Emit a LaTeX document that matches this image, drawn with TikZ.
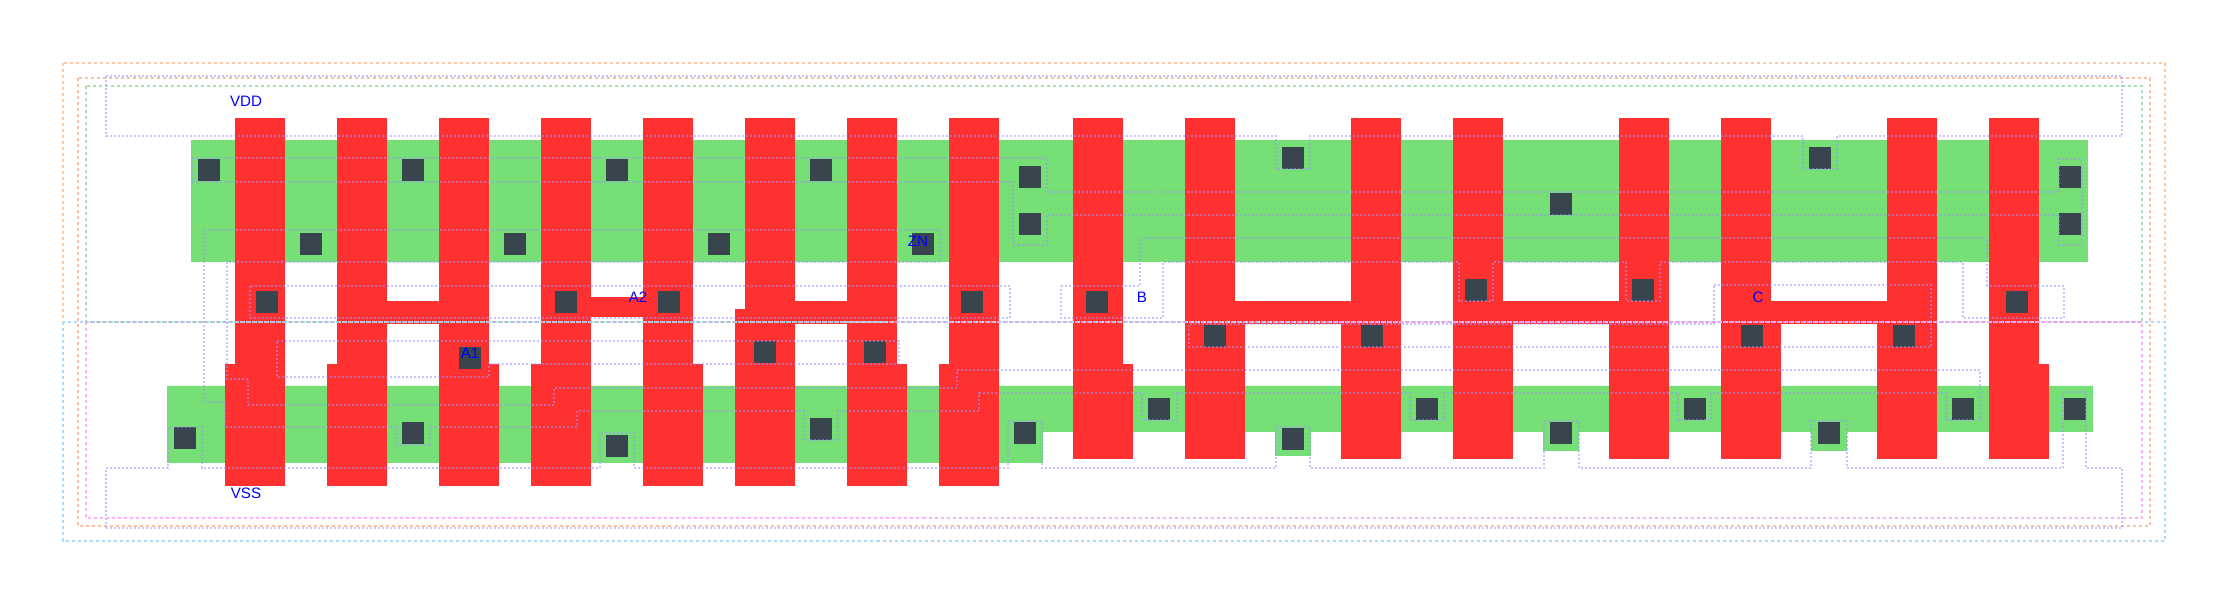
\documentclass[tikz,border=0pt]{standalone}
\usepackage{fontspec}
\setmainfont{Liberation Sans}
\definecolor{actgreen}{HTML}{76DF76}
\definecolor{polyred}{HTML}{FF3030}
\definecolor{cutgrey}{HTML}{38454F}
\definecolor{metalpurple}{HTML}{9C94FF}
\definecolor{guideorange}{HTML}{FFC9A3}
\definecolor{guidesalmon}{HTML}{FFBE9C}
\definecolor{guideblue}{HTML}{A9DBFF}
\definecolor{guidegreen}{HTML}{A5E3B5}
\definecolor{guidepink}{HTML}{FF8CFA}
\tikzset{
    active/.style={fill=actgreen},
    poly/.style={fill=polyred},
    cut/.style={fill=cutgrey},
    metal/.style={draw=metalpurple,line width=1.2*0.2845pt,draw opacity=.55,dash pattern=on 2*0.2845pt off 2*0.2845pt},
    guide/.style={line width=2*0.2845pt,dash pattern=on 3*0.2845pt off 3*0.2845pt},
    pin/.style={text=blue,font=\fontsize{4.3}{5}\selectfont,inner sep=0pt},
}
\begin{document}
\begin{tikzpicture}[x=0.01cm,y=-0.01cm]
    \useasboundingbox (0,0) rectangle (2228,604);
    % active
    \path[active] (191,140) rectangle (2088,262);
    \path[active] (167,386) -- (2093,386) -- (2093,432) -- (1847,432) -- (1847,451) -- (1811,451) -- (1811,432)
        -- (1579,432) -- (1579,451) -- (1543,451) -- (1543,432) -- (1311,432) -- (1311,456) -- (1275,456)
        -- (1275,432) -- (1043,432) -- (1043,463) -- (167,463) -- cycle;
    % poly fingers
    \foreach \x in {235,337,439,541,643,745,847,949,1073,1185,1351,1453,1619,1721,1887,1989}{
        \path[poly] (\x,118) rectangle ++(50,300);
    }
    \foreach \xa/\xb/\ya/\yb in {225/285/364/486,327/387/364/486,439/499/364/486,531/591/364/486,643/703/364/486,
        735/795/309/486,847/907/364/486,939/999/364/486,1073/1133/364/459,1989/2049/364/459,1185/1245/324/459,
        1341/1401/324/459,1453/1513/324/459,1609/1669/324/459,1721/1781/324/459,1877/1937/324/459}{
        \path[poly] (\xa,\ya) rectangle (\xb,\yb);
    }
    \foreach \xa/\xb/\ya/\yb in {387/439/301/324,591/643/297/317,795/847/301/324,1235/1351/301/324,
        1503/1619/301/324,1771/1887/301/324}{
        \path[poly] (\xa,\ya) rectangle (\xb,\yb);
    }
    % contacts
    \foreach \x/\y in {198/159,402/159,606/159,810/159,300/233,504/233,708/233,912/233,256/291,555/291,658/291,
        961/291,1086/291,2006/291,459/347,754/341,864/341,174/427,402/422,606/435,810/418,1014/422,1019/166,
        1019/213,2059/166,2059/213,1282/147,1809/147,1550/193,1465/279,1632/279,1204/325,1361/325,1741/325,
        1893/325,1148/398,1416/398,1684/398,1952/398,2064/398,1282/428,1550/422,1818/422}{
        \path[cut] (\x,\y) rectangle ++(22,22);
    }
    % outlines
    \draw[guide,draw=guideorange] (63,63) rectangle (2165,322);
    \draw[guide,draw=guideblue] (63,322) rectangle (2165,541);
    \draw[guide,draw=guidesalmon] (78,78) rectangle (2150,526);
    \draw[guide,draw=guidegreen] (86,86) rectangle (2142,322);
    \draw[guide,draw=guidepink,draw opacity=.7] (86,322) rectangle (2142,518);
    % metal
    \draw[metal] (106,76) -- (2122,76) -- (2122,136) -- (1837,136) -- (1837,169) -- (1803,169) -- (1803,136)
        -- (1310,136) -- (1310,169) -- (1276,169) -- (1276,136) -- (106,136) -- cycle;
    \draw[metal] (106,528) -- (106,468) -- (168,468) -- (168,427) -- (202,427) -- (202,468) -- (600,468) -- (600,433)
        -- (634,433) -- (634,468) -- (1008,468) -- (1008,421) -- (1042,421) -- (1042,468) -- (1276,468) -- (1276,427)
        -- (1310,427) -- (1310,468) -- (1544,468) -- (1544,421) -- (1579,421) -- (1579,468) -- (1811,468) -- (1811,421)
        -- (1847,421) -- (1847,468) -- (2063,468) -- (2063,392) -- (2086,392) -- (2086,468) -- (2122,468) -- (2122,528)
        -- cycle;
    \draw[metal] (192,158) -- (1047,158) -- (1047,192) -- (2059,192) -- (2059,159) -- (2082,159) -- (2082,245)
        -- (2059,245) -- (2059,215) -- (1047,215) -- (1047,245) -- (1013,245) -- (1013,182) -- (192,182) -- cycle;
    \draw[metal] (204,230) -- (940,230) -- (940,262) -- (227,262) -- (227,379) -- (248,379) -- (248,405) -- (554,405)
        -- (554,388) -- (957,388) -- (957,370) -- (1980,370) -- (1980,420) -- (1946,420) -- (1946,393) -- (1711,393)
        -- (1711,420) -- (1678,420) -- (1678,393) -- (1444,393) -- (1444,420) -- (1410,420) -- (1410,393) -- (1177,393)
        -- (1177,420) -- (1142,420) -- (1142,393) -- (979,393) -- (979,411) -- (838,411) -- (838,440) -- (804,440)
        -- (804,411) -- (577,411) -- (577,427) -- (430,427) -- (430,445) -- (396,445) -- (396,427) -- (225,427)
        -- (225,402) -- (204,402) -- cycle;
    \draw[metal] (250,286) rectangle (1010,318);
    \draw[metal] (277,341) -- (899,341) -- (899,364) -- (489,364) -- (489,377) -- (277,377) -- cycle;
    \draw[metal] (1061,286) -- (1140,286) -- (1140,238) -- (1987,238) -- (1987,286) -- (2064,286) -- (2064,318)
        -- (1963,318) -- (1963,262) -- (1660,262) -- (1660,301) -- (1626,301) -- (1626,262) -- (1493,262) -- (1493,301)
        -- (1459,301) -- (1459,262) -- (1163,262) -- (1163,318) -- (1061,318) -- cycle;
    \draw[metal] (1714,285) -- (1931,285) -- (1931,347) -- (1189,347) -- (1189,324) -- (1714,324) -- cycle;
    % pins
    \node[pin] (vdd) at (246,101) {VDD};
    \node[pin] (vss) at (246,493) {VSS};
    \node[pin] (aone) at (470,353) {A1};
    \node[pin] (atwo) at (638,297) {A2};
    \node[pin] (zn) at (918,241) {ZN};
    \node[pin] (bpin) at (1142,297) {B};
    \node[pin] (cpin) at (1758,297) {C};
\end{tikzpicture}
\end{document}
